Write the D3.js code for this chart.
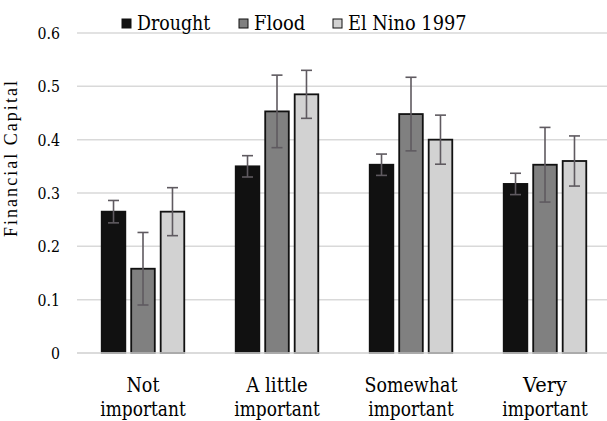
<!DOCTYPE html>
<html><head><meta charset="utf-8">
<script src="https://cdn.jsdelivr.net/npm/d3@7"></script>
<style>
html,body{margin:0;padding:0;background:#fff;}
</style></head>
<body>
<svg id="chart" width="607" height="421"></svg>
<script>
const categories = [["Not", "important"], ["A little", "important"], ["Somewhat", "important"], ["Very", "important"]];
const seriesNames = ["Drought", "Flood", "El Nino 1997"];
const drought = [0.265, 0.350, 0.353, 0.317];
const flood = [0.158, 0.453, 0.448, 0.353];
const elnino = [0.265, 0.485, 0.400, 0.360];
const droughtErr = [0.021, 0.020, 0.020, 0.020];
const floodErr = [0.068, 0.068, 0.069, 0.070];
const elninoErr = [0.045, 0.045, 0.046, 0.047];
const yTicks = [0, 0.1, 0.2, 0.3, 0.4, 0.5, 0.6];
const colors = ["#111111", "#808080", "#d2d2d2"];

const FONT = "Liberation Serif";
const FONT2 = "DejaVu Serif";
// Times/Liberation Serif advance widths (per 1000 em) used to size text
const ADV = {" ":250,".":250,"0":500,"1":500,"2":500,"3":500,"4":500,"5":500,"6":500,"7":500,"8":500,"9":500,
  A:722,C:667,D:722,E:611,F:556,N:722,S:556,V:722,a:444,c:444,d:500,e:444,g:500,h:500,i:278,l:278,m:778,
  n:500,o:500,p:500,r:333,t:278,u:500,w:722,y:500};
const textWidth = (s, size) => [...s].reduce((a, ch) => a + (ADV[ch] || 500), 0) / 1000 * size;

const values = [drought, flood, elnino];
const errs = [droughtErr, floodErr, elninoErr];
const catKeys = categories.map(c => c.join(" "));

const svg = d3.select("#chart");
const x = d3.scaleBand().domain(catKeys).range([76, 612]).paddingInner(0.34).paddingOuter(0.17);
const xs = d3.scaleBand().domain(seriesNames).range([0, x.bandwidth()]).paddingInner(0.2).paddingOuter(0.1);
const y = d3.scaleLinear().domain([0, 0.6]).range([353, 33]);

function label(px, py, txt, size, anchor) {
  return svg.append("text")
    .attr("transform", `translate(${px},${py})`)
    .attr("text-anchor", anchor || "start")
    .attr("font-family", FONT2).attr("font-size", size * 0.91).attr("fill", "#000")
    .attr("textLength", textWidth(txt, size)).attr("lengthAdjust", "spacingAndGlyphs")
    .text(txt);
}

// gridlines
svg.append("g").selectAll("line").data(yTicks).join("line")
  .attr("x1", 77).attr("x2", 607)
  .attr("y1", d => y(d)).attr("y2", d => y(d))
  .attr("stroke", "#d9d9d9").attr("stroke-width", 1.5);

// y axis tick labels (positions from the scale)
const fmt = d => d === 0 ? "0" : d.toFixed(1);
yTicks.forEach(t => label(60, y(t) + 6, fmt(t), 18, "end"));

// y title
svg.append("text").attr("transform", "translate(17,159) rotate(-90)")
  .attr("text-anchor", "middle").attr("font-family", FONT).attr("font-size", 18)
  .attr("textLength", 156).attr("lengthAdjust", "spacing")
  .text("Financial Capital");

// bars
const groups = svg.append("g").selectAll("g").data(catKeys).join("g")
  .attr("transform", d => `translate(${x(d)},0)`);
seriesNames.forEach((s, si) => {
  groups.append("rect")
    .attr("x", xs(s)).attr("width", xs.bandwidth())
    .attr("y", (d, i) => y(values[si][i]))
    .attr("height", (d, i) => y(0) - y(values[si][i]))
    .attr("fill", colors[si]).attr("stroke", "#111").attr("stroke-width", 1.8);
});
// error bars
seriesNames.forEach((s, si) => {
  const cx = xs(s) + xs.bandwidth() / 2;
  const eg = groups.append("g").attr("stroke", "#5f5a60").attr("stroke-width", 1.6);
  eg.append("line").attr("x1", cx).attr("x2", cx)
    .attr("y1", (d, i) => y(values[si][i] + errs[si][i]))
    .attr("y2", (d, i) => y(values[si][i] - errs[si][i]));
  [1, -1].forEach(sg => {
    eg.append("line").attr("x1", cx - 5.5).attr("x2", cx + 5.5)
      .attr("y1", (d, i) => y(values[si][i] + sg * errs[si][i]))
      .attr("y2", (d, i) => y(values[si][i] + sg * errs[si][i]));
  });
});

// x axis line
svg.append("line").attr("x1", 77).attr("x2", 607).attr("y1", y(0)).attr("y2", y(0))
  .attr("stroke", "#d9d9d9").attr("stroke-width", 1.5);

// x labels
categories.forEach((c, i) => {
  const cx = x(catKeys[i]) + x.bandwidth() / 2;
  c.forEach((line, li) => label(cx, 392 + li * 23.5, line, 22, "middle"));
});

// legend
const legX = [122, 239, 333];
seriesNames.forEach((s, si) => {
  svg.append("rect").attr("x", legX[si]).attr("y", 19).attr("width", 9).attr("height", 9)
    .attr("fill", colors[si]).attr("stroke", "#111").attr("stroke-width", 1);
  label(legX[si] + 15, 30, s, 22, "start");
});
</script>
</body></html>
